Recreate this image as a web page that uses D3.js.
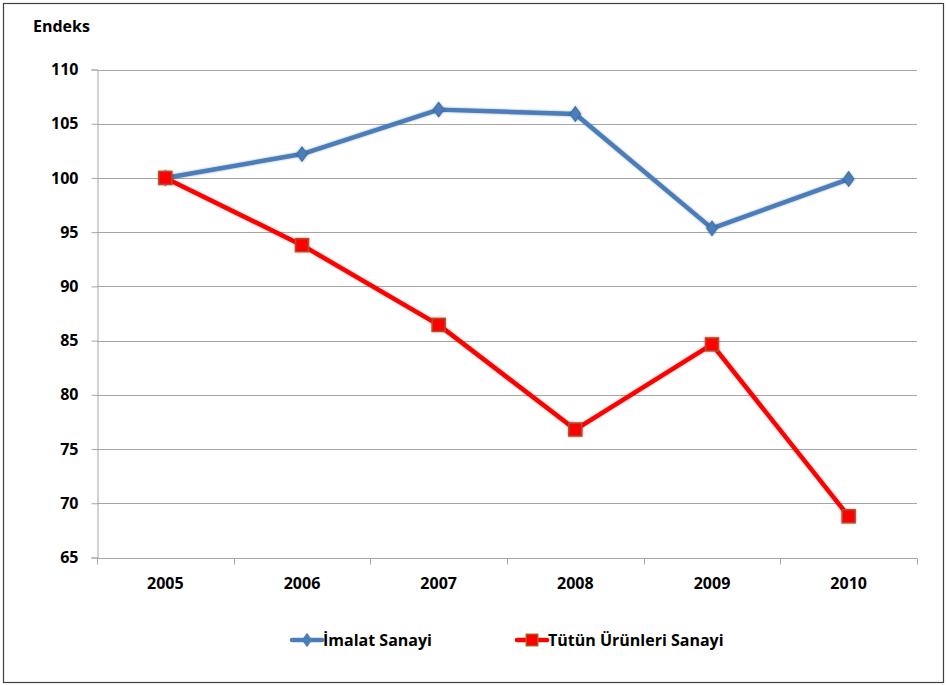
<!DOCTYPE html>
<html><head><meta charset="utf-8">
<script src="https://cdn.jsdelivr.net/npm/d3@7"></script>
<style>
html,body{margin:0;padding:0;background:#fff;}
text{font-family:"Open Sans","Liberation Sans",sans-serif;font-weight:bold;fill:#000;}
</style></head>
<body>
<script>
const years = ["2005","2006","2007","2008","2009","2010"];
const imalat = [100, 102.2, 106.3, 105.9, 95.35, 99.9];
const tutun = [100, 93.8, 86.45, 76.8, 84.65, 68.8];
const yTicks = [65,70,75,80,85,90,95,100,105,110];
const seriesNames = ["İmalat Sanayi","Tütün Ürünleri Sanayi"];

const W=947,H=685;
const FS=16;
const svg=d3.select("body").append("svg").attr("width",W).attr("height",H);
svg.append("rect").attr("x",3.5).attr("y",3.5).attr("width",940).attr("height",679)
  .attr("fill","#fff").attr("stroke","#404040").attr("stroke-width",1.2);

const L=97,R=917,T=69.5,B=557.5;
const x=d3.scaleBand().domain(years).range([L,R]);
const y=d3.scaleLinear().domain([65,110]).range([B,T]);

// gridlines
svg.append("g").selectAll("line").data(yTicks.filter(d=>d>65)).join("line")
  .attr("x1",L).attr("x2",R).attr("y1",d=>Math.round(y(d))+0.5).attr("y2",d=>Math.round(y(d))+0.5)
  .attr("stroke","#a6a6a6").attr("stroke-width",1);

// y axis
const ya=svg.append("g").attr("transform",`translate(${L+0.5},0)`)
  .call(d3.axisLeft(y).tickValues(yTicks).tickSize(6).tickPadding(13).tickFormat(d3.format("d")));
ya.select(".domain").attr("stroke","#a6a6a6");
ya.selectAll(".tick line").attr("stroke","#a6a6a6");
ya.selectAll("text").attr("font-size",FS).style("font-weight","bold").attr("font-family",null);

// x axis
const xa=svg.append("g").attr("transform",`translate(0,${Math.round(B)+0.5})`);
xa.append("line").attr("x1",L).attr("x2",R).attr("stroke","#a6a6a6");
const bounds=years.map(d=>x(d)).concat([R]);
xa.selectAll("line.t").data(bounds).join("line").attr("class","t")
  .attr("x1",d=>Math.round(d)+0.5).attr("x2",d=>Math.round(d)+0.5).attr("y1",0).attr("y2",6)
  .attr("stroke","#a6a6a6");
xa.selectAll("text").data(years).join("text")
  .attr("x",d=>x(d)+x.bandwidth()/2).attr("y",30).attr("text-anchor","middle")
  .attr("font-size",FS).text(d=>d);

svg.append("text").attr("x",33).attr("y",32).attr("font-size",FS).text("Endeks");

const cx=d=>x(d)+x.bandwidth()/2;
const line=d3.line().x((d,i)=>cx(years[i])).y(d=>y(d));

const defs=svg.append("defs");
const f=defs.append("filter").attr("id","sh").attr("x","-50%").attr("y","-50%").attr("width","200%").attr("height","200%");
f.append("feDropShadow").attr("dx",0).attr("dy",0).attr("stdDeviation",1.2).attr("flood-color","#000").attr("flood-opacity",0.35);

// imalat
svg.append("path").datum(imalat).attr("d",line).attr("fill","none")
  .attr("stroke","#4a7ebb").attr("stroke-width",4.5).attr("stroke-linejoin","round").attr("filter","url(#sh)");
const diamond=d3.symbol().type(d3.symbolDiamond).size(60);
svg.append("g").selectAll("path").data(imalat).join("path")
  .attr("d",diamond).attr("transform",(d,i)=>`translate(${cx(years[i])},${y(d)}) scale(1.25,1)`)
  .attr("fill","#4a7ebb").attr("stroke","#3f70aa").attr("stroke-width",1).attr("filter","url(#sh)");

// tutun
svg.append("path").datum(tutun).attr("d",line).attr("fill","none")
  .attr("stroke","#ff0000").attr("stroke-width",4.5).attr("stroke-linejoin","round").attr("filter","url(#sh)");
svg.append("g").selectAll("rect").data(tutun).join("rect")
  .attr("x",(d,i)=>cx(years[i])-6.5).attr("y",d=>y(d)-6.5).attr("width",13).attr("height",13)
  .attr("fill","#ff0000").attr("stroke","#b84b2a").attr("stroke-width",1.5).attr("filter","url(#sh)");

// legend
const lg=svg.append("g");
const ly=640;
lg.append("line").attr("x1",292).attr("x2",322).attr("y1",ly).attr("y2",ly).attr("stroke","#4a7ebb").attr("stroke-width",4.5).attr("stroke-linecap","round");
lg.append("path").attr("d",diamond).attr("transform",`translate(307,${ly}) scale(1.25,1)`).attr("fill","#4a7ebb");
lg.append("text").attr("x",323).attr("y",ly+6).attr("font-size",FS).text(seriesNames[0]);
lg.append("line").attr("x1",517).attr("x2",547).attr("y1",ly).attr("y2",ly).attr("stroke","#ff0000").attr("stroke-width",4.5).attr("stroke-linecap","round");
lg.append("rect").attr("x",526).attr("y",ly-6).attr("width",12).attr("height",12).attr("fill","#ff0000").attr("stroke","#8a8a2a").attr("stroke-width",1);
lg.append("text").attr("x",548).attr("y",ly+6).attr("font-size",FS).text(seriesNames[1]);
</script>
</body></html>
